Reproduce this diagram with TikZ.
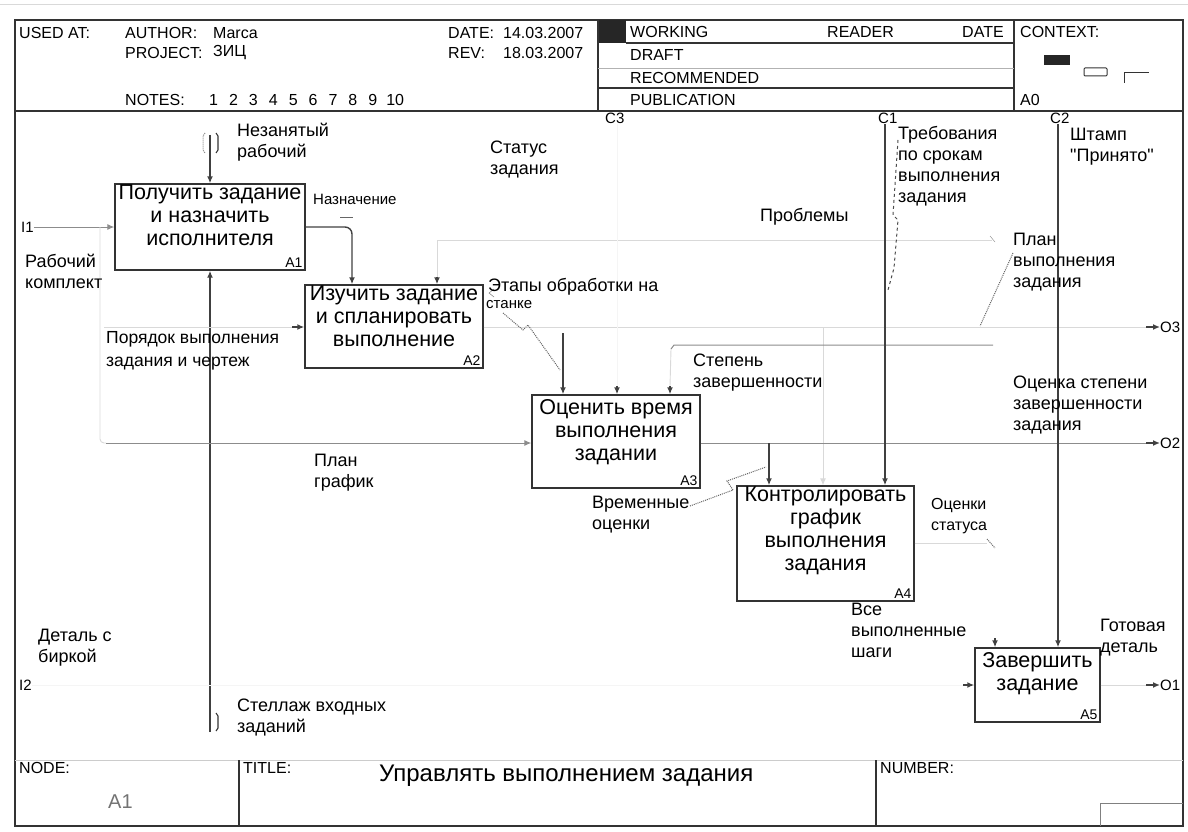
\documentclass[tikz,border=0pt]{standalone}
\usepackage{fontspec}
\setmainfont{Liberation Sans}
\usetikzlibrary{arrows.meta,calc,positioning}
\tikzset{>=Latex}
\tikzset{
  fn/.style={draw=black!80, line width=1.4pt, minimum width=#1, inner sep=0pt},
  fntext/.style={align=center, font=\fontsize{21.5}{23}\selectfont, inner sep=0pt},
  fnnum/.style={anchor=south east, font=\fontsize{14}{14}\selectfont, inner sep=3pt},
  lbl/.style={align=left, anchor=north west, font=\fontsize{18}{21}\selectfont, inner sep=0pt},
  slbl/.style={align=left, anchor=north west, font=\fontsize{15}{18}\selectfont, inner sep=0pt},
  corner/.style={anchor=west, font=\fontsize{15}{15}\selectfont, inner sep=0pt},
  hdr/.style={anchor=west, font=\fontsize{16}{18}\selectfont, inner sep=0pt},
  frame/.style={draw=black!80, line width=1.1pt},
  dark/.style={draw=black!75, line width=1.4pt},
  mid/.style={draw=black!45, line width=1pt},
  faint/.style={draw=black!15, line width=0.9pt},
  hidden/.style={draw=black!4, line width=0.6pt},
  tip/.style={-{Latex[length=7pt,width=6pt]}},
  squig/.style={draw=black!60, densely dotted, line width=1pt},
}

\begin{document}
\begin{tikzpicture}[x=1pt,y=-1pt]
\useasboundingbox (0,0) rectangle (1188,832);

% frame and header
\draw[black!15, line width=1pt] (0,5) -- (1188,5);
\draw[frame] (15,20) rectangle (1183,826);
\draw[frame] (15,111) -- (1183,111);
\draw[black!20] (15,760) -- (1183,760);
\draw[frame] (598,20) -- (598,111);
\draw[frame] (1014,20) -- (1014,111);
\fill[black!85] (599,20) rectangle (626,43);
\draw[frame] (626,43) -- (1014,43);
\draw[black!30] (598,68) -- (1014,68);
\draw[frame] (598,88) -- (1014,88);
\draw[frame] (239,760) -- (239,826);
\draw[frame] (876,760) -- (876,826);
\draw[black!50] (1100,826) |- (1183,803);

\node[hdr] (usedat) at (19,33) {USED AT:};
\node[hdr] (author) at (125,33) {AUTHOR:};
\node[hdr] (authorv) at (213,33) {Marca};
\node[hdr] (project) at (125,53) {PROJECT:};
\node[hdr] (projectv) at (213,53) {ЗИЦ};
\node[hdr] (notes) at (125,100) {NOTES:};
\node[hdr] (notesv) at (209,100) {1\hspace{11pt}2\hspace{11pt}3\hspace{11pt}4\hspace{11pt}5\hspace{11pt}6\hspace{11pt}7\hspace{11pt}8\hspace{11pt}9\hspace{9pt}10};
\node[hdr] (date) at (448,33) {DATE:};
\node[hdr] (datev) at (503,33) {14.03.2007};
\node[hdr] (rev) at (448,53) {REV:};
\node[hdr] (revv) at (503,53) {18.03.2007};
\node[hdr] (working) at (630,32) {WORKING};
\node[hdr] (reader) at (827,32) {READER};
\node[hdr] (rdate) at (962,32) {DATE};
\node[hdr] (draft) at (630,55) {DRAFT};
\node[hdr] (recom) at (630,78) {RECOMMENDED};
\node[hdr] (publ) at (630,100) {PUBLICATION};
\node[hdr] (context) at (1020,32) {CONTEXT:};
\node[hdr] (ctxnode) at (1020,100) {A0};
\fill[black!85] (1044,55) rectangle (1070,65);
\draw[black!80, line width=1pt, rounded corners=1pt] (1084,68) rectangle (1107,76);
\draw[black!80, line width=1pt] (1124,83) |- (1149,73);

% footer
\node[hdr] (nodelbl) at (19,768) {NODE:};
\node[hdr, font=\fontsize{20}{20}\selectfont, text=black!55] (nodenum) at (108,802) {A1};
\node[hdr] (titlelbl) at (243,768) {TITLE:};
\node[hdr, font=\fontsize{24}{24}\selectfont] (title) at (379,776) {Управлять выполнением задания};
\node[hdr] (numlbl) at (880,768) {NUMBER:};

% function boxes
\node[fn=190pt, minimum height=86pt] (A1) at (210,227) {};
\node[fntext, below=1pt of A1.north] {Получить задание\\и назначить\\исполнителя};
\node[fnnum] at (A1.south east) {A1};
\node[fn=178pt, minimum height=83pt] (A2) at (394,326.5) {};
\node[fntext, below=1pt of A2.north] {Изучить задание\\и спланировать\\выполнение};
\node[fnnum] at (A2.south east) {A2};
\node[fn=168pt, minimum height=93pt] (A3) at (616,441.5) {};
\node[fntext, below=5pt of A3.north] {Оценить время\\выполнения\\задании};
\node[fnnum] at (A3.south east) {A3};
\node[fn=177pt, minimum height=115pt] (A4) at (825.5,543.5) {};
\node[fntext, below=1pt of A4.north] {Контролировать\\график\\выполнения\\задания};
\node[fnnum] at (A4.south east) {A4};
\node[fn=125pt, minimum height=74pt] (A5) at (1037.5,685) {};
\node[fntext, below=5pt of A5.north] {Завершить\\задание};
\node[fnnum] at (A5.south east) {A5};

% boundary labels
\node[corner] (i1) at (21,227) {I1};
\node[corner] (i2) at (19,685) {I2};
\node[corner] (c3) at (605,118) {C3};
\node[corner] (c1) at (878,118) {C1};
\node[corner] (c2) at (1050,118) {C2};
\node[corner] (o3) at (1160,327) {O3};
\node[corner] (o2) at (1160,443) {O2};
\node[corner] (o1) at (1160,685) {O1};

% A1 control and mechanism with tunnels
\coordinate (ctop) at (210,135);
\coordinate (mbot) at (210,732);
\draw[dark, tip] (ctop) -- (A1.north);
\draw[dark, tip] (mbot) -- (A1.south);
\draw[black!45, densely dotted, line width=1pt] (205,133) -- (203,136) -- (203,150) -- (205,153);
\draw[black!80, line width=1.1pt] (216,133) -- (218,136) -- (218,150) -- (216,153);
\draw[black!80, line width=1.1pt] (216,713) -- (218,716) -- (218,728) -- (216,731);

% inputs
\coordinate (br1) at (100,227);
\coordinate (br2) at (104,327);
\draw[mid, tip] (i1.east) -- (A1.west);
\draw[faint, rounded corners=4pt] (br1) -- (br1 |- o2) -- (106,443);
\draw[mid, tip] (106,443) -- (A3.west |- o2);
\draw[faint] (br2) -- (292,327);
\draw[dark, tip] (292,327) -- (A2.west |- br2);

% A1 output
\coordinate (asg) at (352,227);
\draw[dark, tip, rounded corners=7pt] (A1.east) -- (asg) -- (asg |- A2.north);
\draw[black!60, line width=1pt] (340,217) -- (353,217);

% A2 output
\coordinate (b563) at (563,327);
\coordinate (b823) at (823,327);
\draw[faint] (A2.east |- o3) -- (1146,327);
\draw[dark, tip] (1146,327) -- (o3.west);
\draw[dark, tip] ($(b563)+(0,6)$) -- (b563 |- A3.north);
\draw[faint, tip] (b823) -- (b823 |- A4.north);

% feedbacks and controls of A2, A3
\coordinate (fb1) at (992,240);
\coordinate (s437) at (437,240);
\draw[faint] (fb1) -- (s437) -- (437,277);
\draw[dark, tip] (437,277) -- (s437 |- A2.north);
\coordinate (fb2) at (993,345);
\coordinate (s670) at (670,386);
\draw[mid] (fb2) -- (674,345) -- (671,349);
\draw[faint] (671,349) -- (s670);
\draw[dark, tip] (s670) -- (s670 |- A3.north);
\coordinate (c3s) at (617,124);
\coordinate (s617) at (617,386);
\draw[hidden] (c3s) -- (s617);
\draw[dark, tip] (s617) -- (s617 |- A3.north);

% A3 output
\coordinate (b769) at (769,443);
\draw[mid] (A3.east |- o2) -- (1146,443);
\draw[dark, tip] (1146,443) -- (o2.west);
\draw[dark, tip] (b769) -- (b769 |- A4.north);

% controls from top
\coordinate (c1s) at (885,124);
\coordinate (c2s) at (1058,124);
\draw[dark, tip] (c1s) -- (c1s |- A4.north);
\draw[dark, tip] (c2s) -- (c2s |- A5.north);

% A4 output and A5
\coordinate (a4o) at (987,543);
\draw[faint] (A4.east |- a4o) -- (a4o);
\coordinate (s995) at (995,638);
\draw[dark, tip] (s995) -- (s995 |- A5.north);
\coordinate (a5i) at (963,685);
\draw[hidden] (i2.east) -- (a5i);
\draw[dark, tip] (a5i) -- (A5.west);
\draw[faint] (A5.east) -- (1146,685);
\draw[dark, tip] (1146,685) -- (o1.west);

% squiggles
\draw[squig] (503,313) -- (523,330) -- (528,325) -- (560,370);
\draw[black!60] (494,289) -- (489,293) -- (494,297);
\draw[squig] (690,506) -- (733,490) -- (727,481) -- (766,467);
\draw[black!70, dashed, line width=1pt] (898,140) -- (893,215) -- (898,220) -- (894,268) -- (888,290);
\draw[squig] (1013,253) -- (980,326);
\draw[black!50] (990,236) -- (995,242);
\draw[squig] (987,539) -- (995,548);

% arrow labels
\node[lbl] (l1) at (237,123) {Незанятый\\рабочий};
\node[slbl] (l2) at (313,194) {Назначение};
\node[lbl] (l3) at (25,254) {Рабочий\\комплект};
\node[lbl, font=\fontsize{17.5}{23}\selectfont] (l4) at (106,331) {Порядок выполнения\\задания и чертеж};
\node[lbl] (l5) at (490,141) {Статус\\задания};
\node[lbl] (l6) at (488,278) {Этапы обработки на};
\node[slbl] (l6b) at (486,300) {станке};
\node[lbl] (l7) at (760,208) {Проблемы};
\node[lbl] (l8) at (898,126) {Требования\\по срокам\\выполнения\\задания};
\node[lbl] (l9) at (1070,128) {Штамп\\\textquotedbl Принято\textquotedbl};
\node[lbl] (l10) at (1013,233) {План\\выполнения\\задания};
\node[lbl] (l11) at (693,354) {Степень\\завершенности};
\node[lbl] (l12) at (1013,376) {Оценка степени\\завершенности\\задания};
\node[lbl] (l13) at (314,454) {План\\график};
\node[lbl] (l14) at (592,496) {Временные\\оценки};
\node[lbl, font=\fontsize{16}{21}\selectfont] (l15) at (931,498) {Оценки\\статуса};
\node[lbl] (l16) at (851,603) {Все\\выполненные\\шаги};
\node[lbl] (l17) at (1100,619) {Готовая\\деталь};
\node[lbl] (l18) at (38,629) {Деталь с\\биркой};
\node[lbl] (l19) at (237,699) {Стеллаж входных\\заданий};
\end{tikzpicture}
\end{document}
